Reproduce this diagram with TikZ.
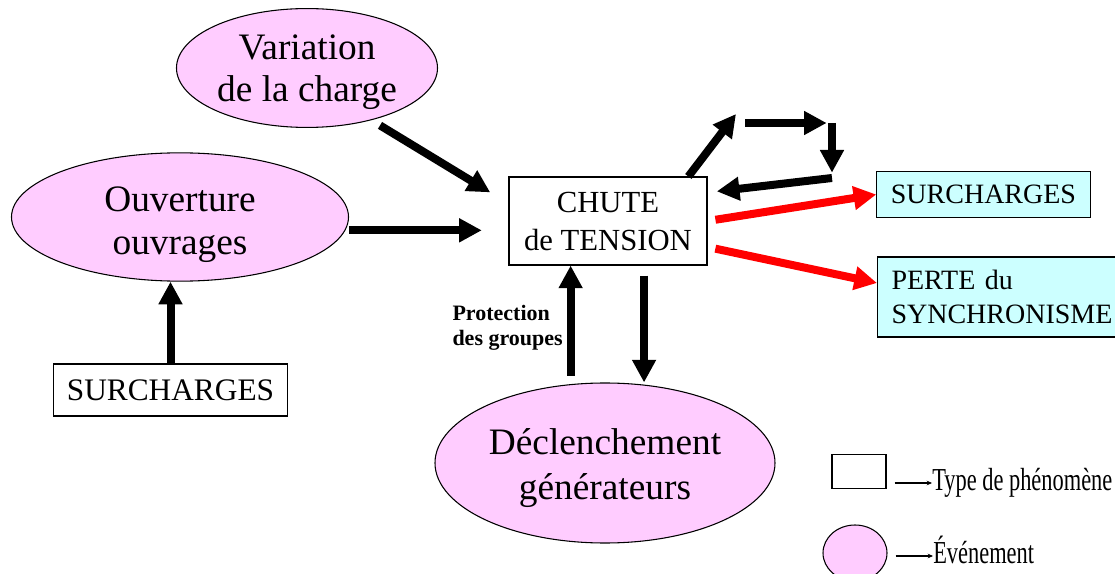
\documentclass[tikz,border=0pt]{standalone}
\usepackage{fontspec}
\setmainfont{Liberation Serif}
\usepackage{tikz}
\usetikzlibrary{shapes.geometric,arrows.meta,calc}
\definecolor{EvtFill}{RGB}{255,204,255}
\definecolor{ResFill}{RGB}{204,255,255}
\definecolor{ResArr} {RGB}{255,0,0}
\tikzset{
  nd_evt/.style={
    ellipse, draw=black, fill=EvtFill, line width=0.8pt,
    inner sep=0pt, align=center,
    font=\fontsize{28}{31.5}\selectfont},
  nd_box/.style={
    rectangle, draw=black, fill=white, line width=0.8pt,
    inner sep=0pt, align=center,
    font=\fontsize{23}{28.5}\selectfont},
  nd_res/.style={
    rectangle, draw=black, fill=ResFill, line width=0.8pt,
    inner sep=0pt, align=center,
    font=\fontsize{21}{25.5}\selectfont},
  arr/.style={-{Triangle[length=17pt,width=17pt]},line width=6pt},
  arr_red/.style={arr,draw=ResArr},
  arr_leg/.style={-{Stealth[length=4pt,width=3.5pt]},line width=0.8pt},
  lbl/.style={inner sep=0pt,align=left,
    font=\fontsize{16.5}{18.75}\selectfont\bfseries},
  leg_txt/.style={inner sep=0pt,anchor=west,
    font=\fontsize{24}{28}\selectfont,
    text height=16.5pt,text depth=5.3pt},
}
% strut that pushes the lines of an event a bit down
\newcommand{\evtlow}[1]{\rule{0pt}{#1}}

\begin{document}
\begin{tikzpicture}[x=0.75pt,y=-0.75pt]

\useasboundingbox (0,0) rectangle (1115,574);

%% events
\node[nd_evt,minimum width=195.75pt,minimum height=82.5pt]
  at (307,68)  (var){\evtlow{25.5pt}Variation\\de la charge};
\node[nd_evt,minimum width=252.75pt,minimum height=87.75pt,
  font=\fontsize{28}{32}\selectfont]
  at (180,217) (ouv){\evtlow{30pt}Ouverture\\ouvrages};
\node[nd_evt,minimum width=255pt,minimum height=120pt,
  font=\fontsize{28}{34}\selectfont]
  at (605,463) (decl){\evtlow{27pt}Déclenchement\\générateurs};

%% phenomena
\node[nd_box,minimum width=176pt,minimum height=39pt,
  font=\fontsize{23.5}{28}\selectfont]
  at (170.5,390) (surL){SURCHARGES};
\node[nd_box,minimum width=148.5pt,minimum height=66pt]
  at (608,221) (chute){CHUTE\\de TENSION};

%% consequences
\node[nd_res,minimum width=160pt,minimum height=35pt]
  at (983.5,194.5) (surR){SURCHARGES};
\node[nd_res,anchor=west,align=left,text width=172pt,
  inner xsep=10.5pt,minimum height=60pt]
  at (877,297) (perte){PERTE du\\SYNCHRONISME};

\node[lbl,anchor=east] at (563,328) (prot){Protection\\des groupes};

%% legend
\node[nd_box,minimum width=40.5pt,minimum height=26pt] at (859,471.5) (legbox){};
\node[nd_evt,minimum width=48pt,minimum height=42pt] at (855,553) (legell){};
\node[leg_txt] at (932,483) (typ){\scalebox{0.7}[1]{Type de phénomène}};
\node[leg_txt] at (933,556) (evt){\scalebox{0.7}[1]{Événement}};

%% loop corners
\coordinate (tl) at (740,123);
\coordinate (tr) at (832,123);
\coordinate (br) at (832,178);

\draw[arr,shorten <=7.5pt,shorten >=16pt] (var.-39) -- (chute.170);
\draw[arr,shorten >=20pt] ([yshift=-10pt]ouv.east) -- ([yshift=-10pt]ouv.east -| chute.west);
\draw[arr] (surL) -- (surL |- ouv.south);
\draw[arr,shorten <=5pt] (chute.-130 |- decl.north) -- (chute.-130);
\draw[arr,shorten <=7.5pt] (chute.-51.5) -- (chute.-51.5 |- decl.north);

\draw[arr] (chute.29) -- ([shift={(-4,-9)}]tl);
\draw[arr,shorten <=4pt,shorten >=4pt] (tl) -- (tr);
\draw[arr,shorten >=4pt] (tr) -- (br);
\draw[arr,shorten >=7pt] (br) -- (chute.16);

\draw[arr_red,shorten <=6pt] (chute.east) -- (surR.west);
\draw[arr_red,shorten <=6pt] ([yshift=-19.5pt]chute.east) -- ([yshift=10.5pt]perte.west);

\draw[arr_leg,shorten <=6pt] (legbox.east |- typ.west) -- (typ.west);
\draw[arr_leg,shorten <=6pt] (legell.east |- evt.west) -- (evt.west);

\end{tikzpicture}
\end{document}
